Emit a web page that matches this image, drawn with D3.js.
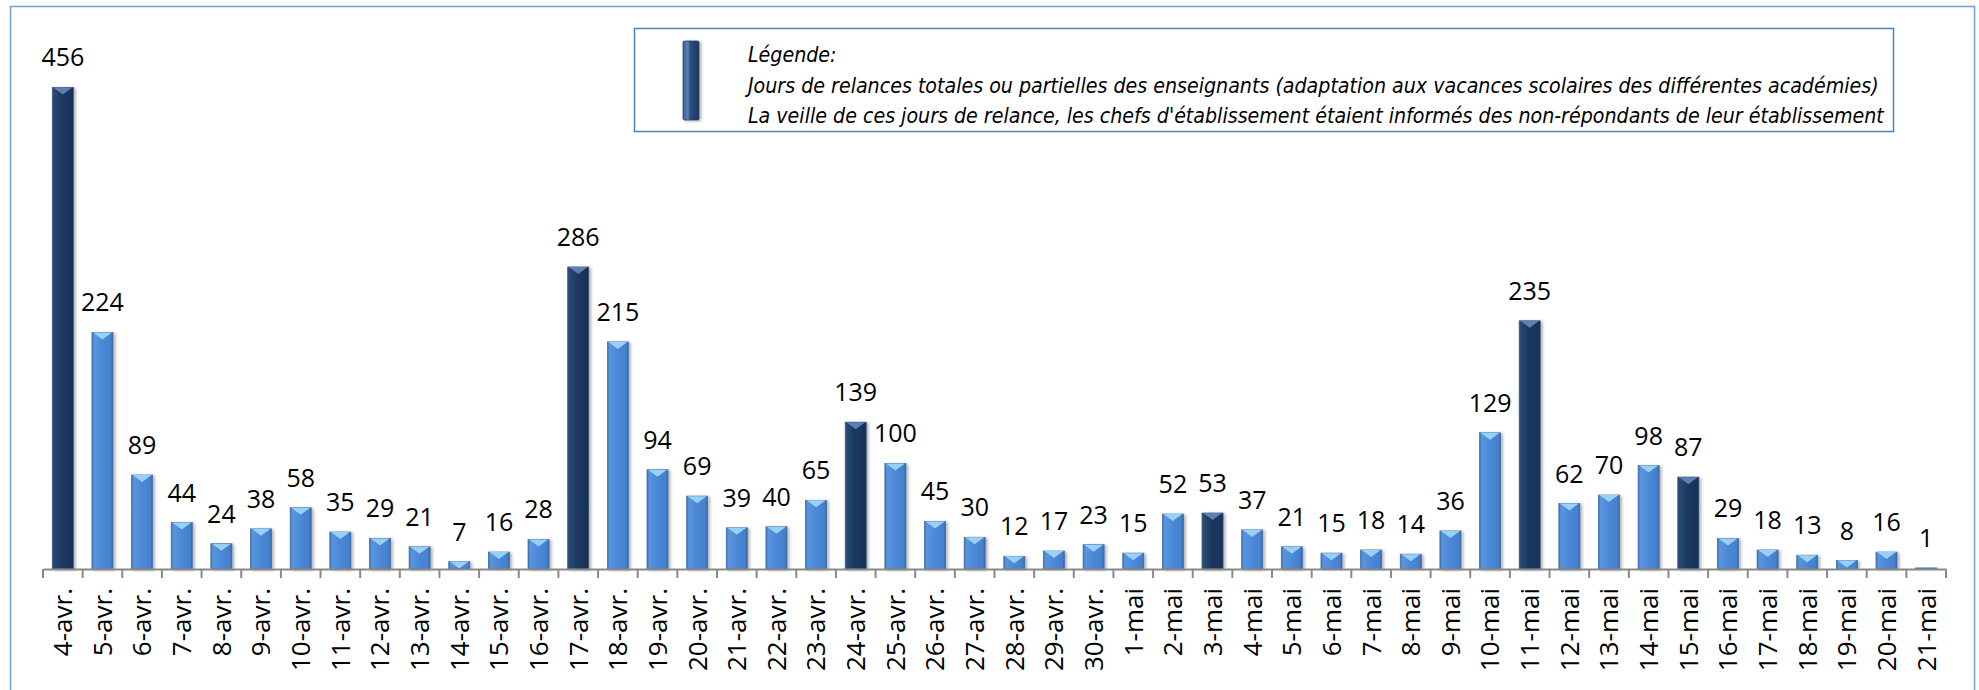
<!DOCTYPE html>
<html>
<head>
<meta charset="utf-8">
<script src="https://cdn.jsdelivr.net/npm/d3@7"></script>
<style>
    html, body { margin: 0; padding: 0; background: #fff; }
    svg { display: block; }
</style>
</head>
<body>
<div id="chart"></div>
<script>
// jours (axe x)
var days = ['4-avr.', '5-avr.', '6-avr.', '7-avr.', '8-avr.', '9-avr.', '10-avr.', '11-avr.', '12-avr.',
    '13-avr.', '14-avr.', '15-avr.', '16-avr.', '17-avr.', '18-avr.', '19-avr.', '20-avr.', '21-avr.',
    '22-avr.', '23-avr.', '24-avr.', '25-avr.', '26-avr.', '27-avr.', '28-avr.', '29-avr.', '30-avr.',
    '1-mai', '2-mai', '3-mai', '4-mai', '5-mai', '6-mai', '7-mai', '8-mai', '9-mai', '10-mai',
    '11-mai', '12-mai', '13-mai', '14-mai', '15-mai', '16-mai', '17-mai', '18-mai', '19-mai',
    '20-mai', '21-mai'];
// nombre de réponses par jour
var counts = [456, 224, 89, 44, 24, 38, 58, 35, 29, 21, 7, 16, 28, 286, 215, 94, 69, 39, 40, 65,
    139, 100, 45, 30, 12, 17, 23, 15, 52, 53, 37, 21, 15, 18, 14, 36, 129, 235, 62, 70, 98, 87,
    29, 18, 13, 8, 16, 1];
// jours de relance (barres foncées)
var relanceDays = ['4-avr.', '17-avr.', '24-avr.', '3-mai', '11-mai', '15-mai'];
var legendLines = [
    'Légende:',
    'Jours de relances totales ou partielles des enseignants (adaptation aux vacances scolaires des différentes académies)',
    'La veille de ces jours de relance, les chefs d\'établissement étaient informés des non-répondants de leur établissement'
];

var width = 1979;
var height = 690;
var baseY = 569;

var data = days.map(function (d, i) {
    return { day: d, value: counts[i], relance: relanceDays.indexOf(d) >= 0 };
});

var svg = d3.select('#chart').append('svg')
    .attr('width', width)
    .attr('height', height);

var defs = svg.append('defs');

function hGradient(id, stops) {
    var g = defs.append('linearGradient').attr('id', id)
        .attr('x1', 0).attr('x2', 1).attr('y1', 0).attr('y2', 0);
    stops.forEach(function (s) {
        g.append('stop').attr('offset', s[0]).attr('stop-color', s[1]);
    });
}
hGradient('barLight', [[0, '#3b6db0'], [0.1, '#5a95dd'], [0.5, '#4b88d7'], [0.9, '#4580cd'], [1, '#34629f']]);
hGradient('barDark', [[0, '#2d5181'], [0.1, '#264870'], [0.5, '#1b375e'], [0.9, '#19335a'], [1, '#132a4a']]);
hGradient('legendDark', [[0, '#3b5f90'], [0.3, '#5a80b4'], [0.45, '#2c5080'], [1, '#1b375e']]);

var shadow = defs.append('filter').attr('id', 'shadow')
    .attr('x', '-30%').attr('y', '-5%').attr('width', '170%').attr('height', '115%');
shadow.append('feDropShadow')
    .attr('dx', 2).attr('dy', 1).attr('stdDeviation', 1.6)
    .attr('flood-color', '#000').attr('flood-opacity', 0.3);

// cadre du graphique
svg.append('rect')
    .attr('x', 10.5).attr('y', 6.5)
    .attr('width', 1964).attr('height', 700)
    .attr('fill', 'none')
    .attr('stroke', '#6d9edc')
    .attr('stroke-width', 1.5);

var x = d3.scaleBand()
    .domain(days)
    .range([43, 1946])
    .paddingInner(0.47)
    .paddingOuter(0.235);

var y = d3.scaleLinear()
    .domain([0, 500])
    .range([baseY, 41]);

var step = x.step();

// barres
var bars = svg.append('g').attr('class', 'bars')
    .selectAll('g')
    .data(data)
    .enter().append('g')
    .attr('filter', 'url(#shadow)');

bars.append('rect')
    .attr('x', function (d) { return x(d.day); })
    .attr('y', function (d) { return y(d.value); })
    .attr('width', x.bandwidth())
    .attr('height', function (d) { return baseY - y(d.value); })
    .attr('fill', function (d) { return d.relance ? 'url(#barDark)' : 'url(#barLight)'; })
    .attr('stroke', function (d) { return d.relance ? '#3d5577' : '#4670a8'; })
    .attr('stroke-width', 0.8);

// biseau (triangle clair en haut)
bars.append('path')
    .attr('d', function (d) {
        var x0 = x(d.day), w = x.bandwidth(), top = y(d.value);
        var h = Math.min(7, baseY - top);
        return 'M' + (x0 + 1) + ',' + top + 'L' + (x0 + w - 1) + ',' + top +
            'L' + (x0 + w / 2) + ',' + (top + h) + 'Z';
    })
    .attr('fill', function (d) { return d.relance ? '#5b80b2' : '#98d0f6'; })
    .attr('opacity', function (d) { return d.value < 2 ? 0 : 1; });

// valeurs
svg.append('g').attr('class', 'labels')
    .selectAll('text')
    .data(data)
    .enter().append('text')
    .attr('x', function (d) { return x(d.day) + x.bandwidth() / 2; })
    .attr('y', function (d) { return y(d.value) - 21; })
    .attr('text-anchor', 'middle')
    .attr('font-family', '"Open Sans", sans-serif')
    .attr('font-size', 25)
    .attr('fill', '#000')
    .text(function (d) { return d.value; });

// axe x
var xAxis = d3.axisBottom(x).tickSize(0).tickSizeOuter(0);
var axisG = svg.append('g')
    .attr('class', 'axis-x')
    .attr('transform', 'translate(0,' + baseY + ')')
    .call(xAxis);
axisG.select('.domain')
    .attr('stroke', '#8a8a8a')
    .attr('stroke-width', 2);
axisG.selectAll('text')
    .attr('transform', 'rotate(-90)')
    .attr('text-anchor', 'end')
    .attr('x', -19)
    .attr('y', 0)
    .attr('dy', '0.36em')
    .attr('font-family', '"Open Sans", sans-serif')
    .attr('font-size', 26)
    .attr('fill', '#000');

// graduations entre catégories
var bounds = days.map(function (d) { return x(d) - step * x.paddingInner() / 2; });
bounds.push(x.range()[1]);
axisG.selectAll('.sep')
    .data(bounds)
    .enter().append('line')
    .attr('class', 'sep')
    .attr('x1', function (d) { return d; })
    .attr('x2', function (d) { return d; })
    .attr('y1', 0)
    .attr('y2', 9)
    .attr('stroke', '#8a8a8a')
    .attr('stroke-width', 2);

// légende
var legend = svg.append('g').attr('class', 'legend');
legend.append('rect')
    .attr('x', 634.5).attr('y', 28.5)
    .attr('width', 1259).attr('height', 103)
    .attr('fill', '#fff')
    .attr('stroke', '#4f81bd')
    .attr('stroke-width', 1.5);
legend.append('rect')
    .attr('x', 683).attr('y', 41)
    .attr('width', 16).attr('height', 79)
    .attr('rx', 1.5)
    .attr('fill', 'url(#legendDark)')
    .attr('stroke', '#2a4468')
    .attr('stroke-width', 0.8)
    .attr('filter', 'url(#shadow)');

var maxTextWidth = 1138;
var legendFont = '"Liberation Sans Narrow", "DejaVu Sans Condensed", "Liberation Sans", sans-serif';
var legendTexts = legend.selectAll('text.leg')
    .data(legendLines)
    .enter().append('text')
    .attr('class', 'leg')
    .attr('x', 748)
    .attr('y', function (d, i) { return 62 + i * 30.5; })
    .attr('font-family', legendFont)
    .attr('font-style', 'italic')
    .attr('font-stretch', 'condensed')
    .attr('font-size', 24)
    .attr('fill', '#000')
    .text(function (d) { return d; });

// taille de police commune pour que la ligne la plus longue tienne dans le cadre
var longest = 0;
legendTexts.each(function () {
    longest = Math.max(longest, this.getComputedTextLength());
});
if (longest > maxTextWidth) {
    legendTexts.attr('font-size', Math.floor(24 * maxTextWidth / longest * 10) / 10);
}
</script>
</body>
</html>
